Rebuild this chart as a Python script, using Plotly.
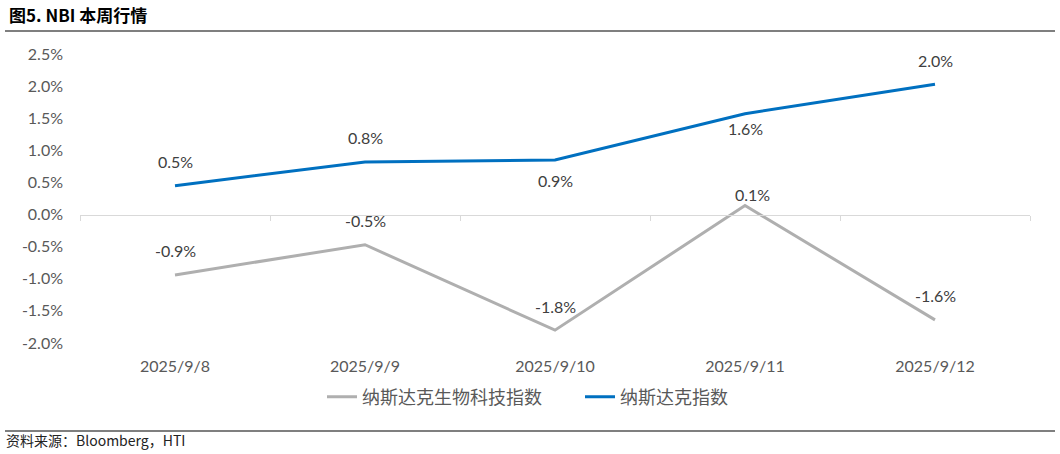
import plotly.graph_objects as go

dates = ["2025/9/8", "2025/9/9", "2025/9/10", "2025/9/11", "2025/9/12"]
nbi = [-0.94, -0.47, -1.80, 0.14, -1.64]          # 纳斯达克生物科技指数 (%)
ndx = [0.45, 0.82, 0.85, 1.57, 2.03]              # 纳斯达克指数 (%)
nbi_labels = ["-0.9%", "-0.5%", "-1.8%", "0.1%", "-1.6%"]
ndx_labels = ["0.5%", "0.8%", "0.9%", "1.6%", "2.0%"]
y_ticks = [-2.0, -1.5, -1.0, -0.5, 0.0, 0.5, 1.0, 1.5, 2.0, 2.5]

# label offsets (pixels) relative to each point
ndx_shift = [(0, 24), (0, 24), (0, -21), (0, -15), (0, 24)]
nbi_shift = [(0, 24), (0, 24), (0, 24), (7, 11), (0, 24)]

NUM_FONT = "Lato, 'Noto Sans', sans-serif"
CJK_FONT = "'Noto Sans CJK SC', sans-serif"

fig = go.Figure()
fig.add_trace(go.Scatter(
    x=dates, y=nbi, mode="lines", name="纳斯达克生物科技指数",
    line=dict(color="#AFAFAF", width=3)))
fig.add_trace(go.Scatter(
    x=dates, y=ndx, mode="lines", name="纳斯达克指数",
    line=dict(color="#0070C0", width=3)))
# invisible trace to render the zero-position category axis ticks
fig.add_trace(go.Scatter(x=dates, y=[0] * 5, xaxis="x2", mode="lines",
                         line=dict(width=0), showlegend=False, hoverinfo="skip"))

for xs, ys, labels, shifts in ((dates, nbi, nbi_labels, nbi_shift),
                               (dates, ndx, ndx_labels, ndx_shift)):
    for xv, yv, lab, (dx, dy) in zip(xs, ys, labels, shifts):
        fig.add_annotation(x=xv, y=yv, text=lab, showarrow=False,
                           xshift=dx, yshift=dy,
                           font=dict(family=NUM_FONT, size=16, color="#404040"))

y0, y1 = -2.0, 2.5
fig.update_layout(
    width=1060, height=454,
    margin=dict(l=80, r=30, t=54, b=111),
    paper_bgcolor="white", plot_bgcolor="white",
    showlegend=True,
    legend=dict(orientation="h", x=(322 - 80) / 950, xanchor="left",
                y=(343 - 397) / 289, yanchor="middle",
                font=dict(family=CJK_FONT, size=18, color="#595959"),
                entrywidth=213, entrywidthmode="pixels", tracegroupgap=0),
    xaxis=dict(type="category", showgrid=False, showline=False, ticks="",
               tickfont=dict(family=NUM_FONT, size=16, color="#595959"),
               range=[-0.5, 4.5], ticklabelstandoff=12),
    xaxis2=dict(type="category", overlaying="x", matches="x", anchor="free",
                position=(0 - y0) / (y1 - y0), showticklabels=False,
                showline=True, linecolor="#D9D9D9", linewidth=1,
                ticks="outside", tickson="boundaries", ticklen=5, tickcolor="#D9D9D9",
                showgrid=False),
    yaxis=dict(range=[y0, y1], tickvals=y_ticks,
               ticktext=[f"{v:.1f}%" for v in y_ticks],
               showgrid=False, zeroline=False, showline=False,
               tickfont=dict(family=NUM_FONT, size=16, color="#595959"),
               ticklabelstandoff=16),
    font=dict(family=CJK_FONT),
)

# title and source
fig.add_annotation(text="<b>图5. NBI 本周行情</b>", xref="paper", yref="paper",
                   x=(7 - 80) / 950, y=(343 - 14) / 289, xanchor="left", yanchor="middle",
                   showarrow=False, font=dict(family=CJK_FONT, size=17, color="#000000"))
fig.add_annotation(text="资料来源：Bloomberg，HTI", xref="paper", yref="paper",
                   x=(4 - 80) / 950, y=(343 - 440) / 289, xanchor="left", yanchor="middle",
                   showarrow=False, font=dict(family=CJK_FONT, size=14, color="#222222"))
for yy in (31, 431):
    fig.add_shape(type="line", xref="paper", yref="paper",
                  x0=(5 - 80) / 950, x1=(1055 - 80) / 950,
                  y0=(343 - yy) / 289, y1=(343 - yy) / 289,
                  line=dict(color="#7F7F7F", width=2))

fig.write_html("out.html", config={"displayModeBar": False},
               post_script="document.body.style.margin='0px';")
